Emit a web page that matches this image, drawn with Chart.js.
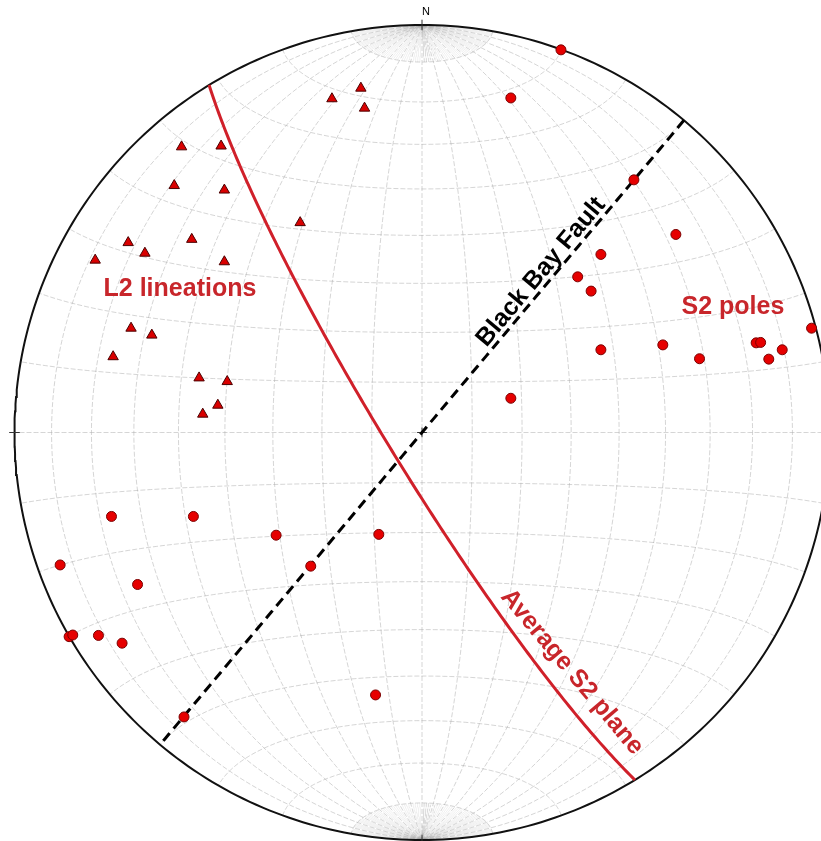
<!DOCTYPE html>
<html>
<head>
<meta charset="utf-8">
<script src="https://cdn.jsdelivr.net/npm/chart.js@4.4.1/dist/chart.umd.min.js"></script>
<style>
  html, body { margin: 0; padding: 0; background: #fff; }
  #wrap { width: 821px; height: 841px; }
</style>
</head>
<body>
<div id="wrap"><canvas id="net"></canvas></div>
<script>
// Equal-area (Schmidt) lower hemisphere net.
// Net coordinates: x = east, y = north, primitive radius = 1

// S2 poles
const s2PoleX = [0.341, 0.218, 0.520, 0.623, 0.439, 0.382, 0.415, 0.956, 0.439, 0.591,
                 0.681, 0.820, 0.831, 0.851, 0.884, 0.218, -0.762, -0.561, -0.358, -0.106,
                 -0.888, -0.273, -0.698, -0.866, -0.857, -0.794, -0.736, -0.114, -0.584];
const s2PoleY = [0.939, 0.821, 0.620, 0.486, 0.437, 0.382, 0.347, 0.256, 0.203, 0.215,
                 0.181, 0.220, 0.221, 0.180, 0.203, 0.084, -0.206, -0.206, -0.252, -0.250,
                 -0.325, -0.328, -0.373, -0.501, -0.497, -0.498, -0.517, -0.644, -0.698];

// L2 lineations
const l2LinX = [-0.590, -0.493, -0.608, -0.485, -0.299, -0.721, -0.565, -0.680, -0.802, -0.485,
                -0.714, -0.663, -0.758, -0.547, -0.478, -0.501, -0.538, -0.150, -0.221, -0.141];
const l2LinY = [0.701, 0.703, 0.606, 0.595, 0.515, 0.466, 0.474, 0.440, 0.423, 0.419,
                0.256, 0.239, 0.186, 0.134, 0.125, 0.067, 0.045, 0.845, 0.819, 0.796];

// planes as [strike, dip], right-hand rule
const avgS2Plane = [148.5, 83];
const blackBayFault = [40, 90];

const labelTexts = ['L2 lineations', 'S2 poles', 'Black Bay Fault', 'Average S2 plane'];
const northLabel = 'N';

// ---- geometry helpers ----
const D = Math.PI / 180;
function project(e, n, dn) {
  const k = 1 / Math.sqrt(1 + dn);
  return { x: e * k, y: n * k };
}
function planeLine(strike, dip, a0, a1, step) {
  const st = strike * D, dp = dip * D, dd = st + Math.PI / 2;
  const s = [Math.sin(st), Math.cos(st), 0];
  const d = [Math.cos(dp) * Math.sin(dd), Math.cos(dp) * Math.cos(dd), Math.sin(dp)];
  const pts = [];
  for (let a = a0; a <= a1 + 1e-9; a += step) {
    const c = Math.cos(a * D), sn = Math.sin(a * D);
    pts.push(project(c * s[0] + sn * d[0], c * s[1] + sn * d[1], Math.max(0, c * s[2] + sn * d[2])));
  }
  return pts;
}
function smallCircle(beta) {
  const pts = [];
  for (let f = 0; f <= 180; f += 1) {
    pts.push(project(Math.sin(beta * D) * Math.cos(f * D), Math.cos(beta * D),
                     Math.sin(beta * D) * Math.sin(f * D)));
  }
  return pts;
}
const BREAK = { x: 0, y: null };

// 10 degree grid, joined with null breaks
const gridPts = [];
for (let dip = 10; dip <= 90; dip += 10) {
  gridPts.push(...planeLine(0, dip, 0, 180, 1), BREAK);
  if (dip < 90) gridPts.push(...planeLine(180, dip, 0, 180, 1), BREAK);
}
for (let b = 10; b <= 170; b += 10) gridPts.push(...smallCircle(b), BREAK);
// extra 2 degree meridians inside the polar caps
const capPts = [];
for (let dip = 2; dip < 90; dip += 2) {
  if (dip % 10 === 0) continue;
  for (const st of [0, 180]) {
    capPts.push(...planeLine(st, dip, 0, 10, 0.5), BREAK);
    capPts.push(...planeLine(st, dip, 170, 180, 0.5), BREAK);
  }
}

const primitive = [];
for (let t = 0; t <= 360; t += 1) primitive.push({ x: Math.sin(t * D), y: Math.cos(t * D) });

// small tick marks: N, S, E, W and centre cross
const tk = 0.013, cx = 0.012;
const tickPts = [
  { x: 0, y: 1 - tk }, { x: 0, y: 1 + tk }, BREAK,
  { x: 0, y: -1 - tk }, { x: 0, y: -1 + tk }, BREAK,
  { x: -1 - tk, y: 0 }, { x: -1 + tk, y: 0 }, BREAK,
  { x: 1 - tk, y: 0 }, { x: 1 + tk, y: 0 }, BREAK,
  { x: -cx, y: 0 }, { x: cx, y: 0 }, BREAK,
  { x: 0, y: -cx }, { x: 0, y: cx }
];

const poles = s2PoleX.map((v, i) => ({ x: v, y: s2PoleY[i] }));
const lineations = l2LinX.map((v, i) => ({ x: v, y: l2LinY[i] }));

// label layout (net coordinates, rotation in degrees)
const RED = '#c8262b';
const labelLayout = [
  { x: -0.594, y: 0.352, rot: 0, color: RED },
  { x: 0.763, y: 0.308, rot: 0, color: RED },
  { x: 0.292, y: 0.394, rot: -50, color: '#000' },
  { x: 0.368, y: -0.588, rot: 50, color: RED }
];

const textPlugin = {
  id: 'netText',
  afterDatasetsDraw(chart) {
    const { ctx, scales: { x, y } } = chart;
    ctx.save();
    ctx.textAlign = 'center';
    ctx.textBaseline = 'middle';
    ctx.font = 'bold 25px "Liberation Sans", Arial, sans-serif';
    labelTexts.forEach((t, i) => {
      const L = labelLayout[i];
      ctx.save();
      ctx.translate(x.getPixelForValue(L.x), y.getPixelForValue(L.y));
      ctx.rotate(L.rot * D);
      ctx.fillStyle = L.color;
      ctx.fillText(t, 0, 0);
      ctx.restore();
    });
    ctx.font = '11px "Liberation Sans", Arial, sans-serif';
    ctx.fillStyle = '#000';
    ctx.fillText(northLabel, x.getPixelForValue(0.01), y.getPixelForValue(1.032));
    ctx.restore();
  }
};

new Chart(document.getElementById('net'), {
  type: 'scatter',
  data: {
    datasets: [
      { data: lineations, pointStyle: 'triangle', pointRadius: 6,
        backgroundColor: '#d90000', borderColor: '#4a0000', borderWidth: 1 },
      { data: poles, pointStyle: 'circle', pointRadius: 5,
        backgroundColor: '#e60000', borderColor: '#7a0000', borderWidth: 1 },
      { data: planeLine(avgS2Plane[0], avgS2Plane[1], 0, 180, 1), showLine: true,
        pointRadius: 0, borderColor: '#d0202a', borderWidth: 3 },
      { data: planeLine(blackBayFault[0], blackBayFault[1], 0, 180, 2), showLine: true,
        pointRadius: 0, borderColor: '#000', borderWidth: 3, borderDash: [10, 6] },
      { data: tickPts, showLine: true, pointRadius: 0, borderColor: '#333', borderWidth: 1 },
      { data: primitive, showLine: true, pointRadius: 0, borderColor: '#111', borderWidth: 2 },
      { data: gridPts, showLine: true, pointRadius: 0, borderColor: 'rgba(150,150,150,0.5)',
        borderWidth: 0.8, borderDash: [5, 2] },
      { data: capPts, showLine: true, pointRadius: 0, borderColor: 'rgba(170,170,170,0.35)',
        borderWidth: 0.5 }
    ]
  },
  options: {
    responsive: true,
    maintainAspectRatio: false,
    animation: false,
    layout: { padding: 0, autoPadding: false },
    plugins: { legend: { display: false }, tooltip: { enabled: false } },
    scales: {
      x: { type: 'linear', display: false, min: -422 / 407.5, max: 399 / 407.5 },
      y: { type: 'linear', display: false, min: -408.5 / 407.5, max: 432.5 / 407.5 }
    }
  },
  plugins: [textPlugin]
});
</script>
</body>
</html>
